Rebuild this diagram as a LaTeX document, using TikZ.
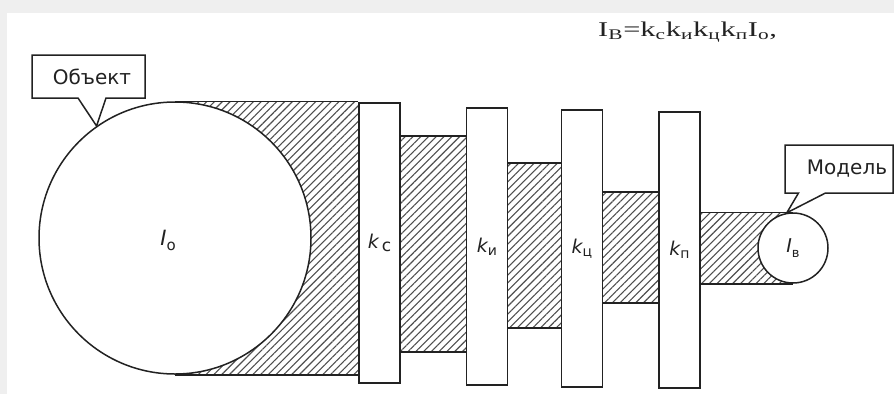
\documentclass[tikz,border=0pt]{standalone}
\usepackage{graphicx}
\usepackage{fontspec}
\setmainfont{Liberation Serif}
\newfontfamily\labfont{DejaVu Sans}
\usetikzlibrary{patterns.meta,shapes.callouts}
\definecolor{ink}{HTML}{222222}
\definecolor{framegray}{HTML}{EFEFEF}
\newcommand{\klab}[2]{{\labfont\fontsize{19}{19}\selectfont\itshape k}\raisebox{-3pt}{\labfont\fontsize{#2}{#2}\selectfont #1}}
\begin{document}
\begin{tikzpicture}[x=1pt,y=-1pt,
  outline/.style={draw=ink,line width=1.5pt},
  hatch/.style={pattern={Lines[angle=45,distance=5.5pt,line width=1.1pt]},pattern color=ink!80},
  barbox/.style={outline,fill=white,rectangle,inner sep=0pt,minimum width=41pt,text=ink},
  calloutbox/.style={rectangle callout,outline,fill=white,inner sep=0pt,text=ink,
    font=\labfont\fontsize{20}{22}\selectfont}]
\useasboundingbox (0,0) rectangle (894,394);
\fill[framegray] (0,0) rectangle (894,13);
\fill[framegray] (0,0) rectangle (7,394);

% formula
\node[anchor=base west,inner sep=0pt,text=ink] (formula) at (598,36)
  {\scalebox{1.45}[1]{\fontsize{21}{24}\selectfont I\textsubscript{B}=k\textsubscript{c}k\textsubscript{и}k\textsubscript{ц}k\textsubscript{п}I\textsubscript{o},}};

% hatched bands
\fill[hatch] (175,102) rectangle (359,374);
\path[hatch,outline] (400,136) rectangle (467,352);
\path[hatch,outline] (507,163) rectangle (562,328);
\path[hatch,outline] (602,192) rectangle (659,303);
\fill[hatch] (700,213) rectangle (793,283);

% object circle
\node[outline,fill=white,circle,inner sep=0pt,minimum size=272pt] (obj) at (175,238) {};
\node[text=ink,inner sep=0pt] (objlab) at (168,240)
  {{\labfont\fontsize{21}{21}\selectfont\itshape I}\raisebox{-5pt}{\labfont\fontsize{15}{15}\selectfont o}};

% bars
\node[barbox,minimum height=280pt] (b1) at (379.5,243) {\klab{\,c}{17}};
\node[barbox,minimum height=277pt] (b2) at (487,246.5) {\klab{и}{14}};
\node[barbox,minimum height=277pt] (b3) at (582,248.5) {\klab{ц}{14}};
\node[barbox,minimum height=276pt] (b4) at (679.5,250) {\klab{п}{14}};

% model circle
\node[outline,fill=white,circle,inner sep=0pt,minimum size=70pt,text=ink] (mod) at (793,248)
  {{\labfont\fontsize{19}{19}\selectfont\itshape I}\raisebox{-5pt}{\labfont\fontsize{13}{13}\selectfont в}};

% band edges joining circles to bars
\draw[outline] (obj.north) -- (obj.north -| b1.west);
\draw[outline] (obj.south) -- (obj.south -| b1.west);
\draw[outline] (b4.east |- mod.north) -- (mod.north);
\draw[outline] (b4.east |- mod.south) -- (mod.south);

% callouts
\node[calloutbox,minimum width=113pt,minimum height=43pt,
  callout absolute pointer={(obj.125)},callout pointer width=28pt] (cobj) at (88.5,76.5)
  {\hspace{7pt}Объект};
\node[calloutbox,minimum width=108pt,minimum height=48pt,
  callout absolute pointer={(mod.100)},callout pointer width=27pt] (cmod) at (839,169)
  {\hspace{16pt}Модель};
\end{tikzpicture}
\end{document}
